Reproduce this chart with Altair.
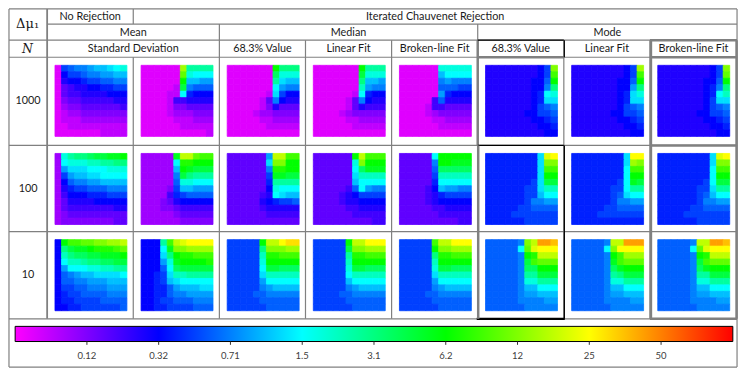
import altair as alt
import pandas as pd

# ---------------- values ----------------
# Each panel: 11 rows (top -> bottom) x 11 cells (left -> right).
# One base-36 character per cell = colour level on the colour bar, level = int(ch, 36) / 4
# (level 0 = magenta ... 2 = blue ... 4 = cyan ... 6 = green ... 8 = yellow ... 10 = red)
R1C1 = ["1abccdeefgh", "18aabccddee", "17889aabbcc", "156778899aa", "15667777888", "14556666677",
        "13445555556", "12334444444", "12223333333", "11222222222", "11111112222"]
R1C2 = ["111111tjjjj", "111111rhggg", "111111oeedd", "111112mcbbb", "111122g9888", "11112667777",
        "11112445555", "11112333444", "11111222333", "11111122222", "11111111112"]
R1C3 = ["1111111okkk", "1111111lhhh", "1111111jfee", "1111111gdcc", "1111112fa88", "1111125c877",
        "11111247555", "11112334444", "11111223333", "11111122222", "11111111111"]
R1C4 = ["1111111ojjj", "1111111mhhh", "1111111keed", "1111111idcc", "1111112g988", "1111125c877",
        "11111257666", "11112344444", "11111223333", "11111122222", "11111111111"]
R1C5 = ["111111hhhhh", "111111egggg", "111111cdccc", "111111bbbaa", "111111d9888", "111116b7777",
        "11112665555", "11112344444", "11111223333", "11111122222", "11111111111"]
R1C6 = ["777777778as", "777777778aq", "777777788bo", "777777788ck", "777777789gh", "777777789ff",
        "77777778abc", "77777788aab", "7777777889a", "77777777889", "77777777788"]
R1C7 = ["777777778at", "777777778aq", "777777788bo", "777777788dk", "777777789fh", "777777789ff",
        "77777778abc", "77777788aab", "7777777889a", "77777777889", "77777777788"]
R1C8 = ["777777778as", "777777778ar", "777777788bo", "777777789ck", "777777789gi", "77777778aff",
        "77777778abc", "77777788aab", "7777777889a", "77777777889", "77777777788"]

R2C1 = ["3hjkklmmnno", "3ghhhiijjkk", "3dfffggghhh", "3adeeffgggg", "38bccddeeee", "379aabbbccc",
        "36888999aaa", "35777788888", "35666666677", "34555555555", "34444444455"]
R2C2 = ["33333nuurqq", "33333gppooo", "33333eonmmm", "33333cmkjjj", "33333bhhggg", "33334aeeddd",
        "333369abbbb", "33345788888", "33344566666", "33333455555", "33333344444"]
R2C3 = ["555555duuqq", "555555fssoo", "555555cppoo", "555555annmm", "5555559jjjj", "5555558hggg",
        "5555567gfee", "55555789aab", "55555677777", "55555566666", "55555555555"]
R2C4 = ["555555ouqqq", "555555hsooo", "555555glnnn", "555555fiiii", "555555egggg", "555556bgdcc",
        "5555678aaaa", "55556778888", "55555667777", "55555566666", "55555555566"]
R2C5 = ["55555gooooo", "55555coonnn", "55555blllll", "55555aiiiii", "555559ggggg", "555568eddcc",
        "5555679aaaa", "55556788888", "55555667777", "55555566666", "55555555566"]
R2C6 = ["99999999fvw", "99999999fss", "99999999fqq", "99999999foo", "9999999afmm", "999999aafii",
        "999999aaegg", "999999accdd", "99999aabbbb", "9999aaaaaaa", "999999aaaaa"]
R2C7 = ["99999999fww", "99999999fts", "99999999gqq", "99999999goo", "9999999agnm", "999999aagjj",
        "999999abfgg", "999999accdd", "99999aabbbb", "9999aaaaaaa", "99999999999"]
R2C8 = ["99999999fvw", "99999999fss", "99999999gqq", "99999999goo", "9999999agmm", "999999aafjj",
        "999999abegg", "999999accdd", "99999aabbbb", "9999aaaaaaa", "999999aaaaa"]

R3C1 = ["8oqqrrssttu", "8kmnnopppqr", "8ikllmmnnno", "8giijkkllmm", "8dggghhiijj", "8bcdeeffffg",
        "8bbccdddeee", "8aabbcccddd", "89aabbbbccc", "899aaaabbbb", "8899aaaaaab"]
R3C2 = ["888jquvwwww", "888gnsstttt", "888fkoppqqq", "888dhnoooop", "888bglmmmmm", "889afiijjjj",
        "889aefggggg", "8899bdeeeff", "8899bccdddd", "889aabbbccc", "8899aaaabbb"]
R3C3 = ["aaaaaouuwxx", "aaaaakssstt", "aaaaaippqqq", "aaaaahooooo", "aaaaagmmlll", "aaaaafiiiii",
        "aaaaadggggg", "aaaaacdeeee", "aaaabbccccc", "aaaaabbbbbb", "aaaaaabbbbb"]
R3C4 = ["aaaaaouuwww", "aaaaamssttt", "aaaaajppqqq", "aaaaaiooooo", "aaaaahmmlll", "aaaaagiiiii",
        "aaaaaeggggg", "aaaaacdeeee", "aaaabbccccc", "aaaaabbbbbb", "aaaaaabbbbb"]
R3C5 = ["aaaaaquuwww", "aaaaaossttt", "aaaaakppqqq", "aaaaaiooooo", "aaaaahmmlll", "aaaaafiiiii",
        "aaaaadggggg", "aaaaacdeeee", "aaaabbccccc", "aaaaabbbbbb", "aaaaaabbbbb"]
R3C6 = ["bbbbbcsuzzy", "bbbbbgrvwww", "bbbbbcopuuu", "bbbbbcmqrrr", "bbbbbcllooo", "bbbbbcjjmmm",
        "bbbbbchhjjj", "bbbbbceeggg", "bbbbbcddeee", "bbbbbccccdd", "bbbbbbccccc"]
R3C7 = ["bbbbbcuuzzz", "bbbbbgswwww", "bbbbbcoqttt", "bbbbbcnqrrr", "bbbbbclnooo", "bbbbbcjkmmm",
        "bbbbbchhjjj", "bbbbbceeggg", "bbbbbcddeee", "bbbbbccccdd", "bbbbbbccccc"]
R3C8 = ["bbbbbcuuzzy", "bbbbbgrvwww", "bbbbbcopuuu", "bbbbbcmqrrr", "bbbbbclnooo", "bbbbbcjjmmm",
        "bbbbbchhjjj", "bbbbbceeggg", "bbbbbcddeee", "bbbbbccccdd", "bbbbbbccccc"]

PANELS = [[R1C1, R1C2, R1C3, R1C4, R1C5, R1C6, R1C7, R1C8],
          [R2C1, R2C2, R2C3, R2C4, R2C5, R2C6, R2C7, R2C8],
          [R3C1, R3C2, R3C3, R3C4, R3C5, R3C6, R3C7, R3C8]]

ROW_LABELS = ["1000", "100", "10"]
HEADER_TOP = ["No Rejection", "Iterated Chauvenet Rejection"]
HEADER_MID = ["Mean", "Median", "Mode"]
HEADER_LOW = ["Standard Deviation", "68.3% Value", "Linear Fit", "Broken-line Fit",
              "68.3% Value", "Linear Fit", "Broken-line Fit"]
CBAR_LEVELS = [1, 2, 3, 4, 5, 6, 7, 8, 9]
CBAR_LABELS = ["0.12", "0.32", "0.71", "1.5", "3.1", "6.2", "12", "25", "50"]
COLOR_LEVELS = [0, 2, 4, 6, 8, 10]
COLOR_STOPS = ["#ff00ff", "#0000ff", "#00ffff", "#00ff00", "#ffff00", "#ff0000"]

# ---------------- layout (reference pixel frame) ----------------
REF_W, REF_H = 747, 381
W, H = 731, 361
COL_EDGES = [40, 128, 216, 304, 392, 480, 568, 656, 745]
ROW_EDGES = [52, 145, 236, 328]
PANEL_W, PANEL_H = 73.5, 75.0
PANEL_DX, PANEL_DY = 8.0, 8.5
CBAR_X0, CBAR_X1, CBAR_Y0, CBAR_Y1 = 7.3, 740.7, 336, 352

xs = alt.Scale(domain=[0, REF_W], range=[0, W], nice=False, zero=False)
ys = alt.Scale(domain=[0, REF_H], range=[0, H], nice=False, zero=False)
cscale = alt.Scale(domain=COLOR_LEVELS, range=COLOR_STOPS, interpolate="rgb")

# heat cells
recs = []
for r, row in enumerate(PANELS):
    for c, panel in enumerate(row):
        px = COL_EDGES[c] + PANEL_DX
        py = ROW_EDGES[r] + PANEL_DY
        cw, ch_ = PANEL_W / 11, PANEL_H / 11
        for i, s in enumerate(panel):
            for j, ch in enumerate(s):
                recs.append(dict(x=px + j * cw, x2=px + (j + 1) * cw,
                                 y=py + i * ch_, y2=py + (i + 1) * ch_,
                                 level=int(ch, 36) / 4))
heat_df = pd.DataFrame(recs)

heat = alt.Chart(heat_df).mark_rect(strokeWidth=0.8).encode(
    x=alt.X("x:Q", scale=xs, axis=None), x2="x2:Q",
    y=alt.Y("y:Q", scale=ys, axis=None), y2="y2:Q",
    color=alt.Color("level:Q", scale=cscale, legend=None),
    stroke=alt.Stroke("level:Q", scale=cscale, legend=None),
)

# table lines
G, B = "#808080", "#000000"
lines = []
def seg(x1, y1, x2, y2, col=G, w=1.2):
    lines.append(dict(x=x1, y=y1, x2=x2, y2=y2, col=col, w=w))

seg(1, 1, 745, 1); seg(40, 17, 745, 17); seg(1, 34, 745, 34); seg(1, 52, 745, 52)
seg(1, 145, 745, 145); seg(1, 236, 745, 236); seg(1, 328, 745, 328); seg(1, 379, 745, 379)
seg(1, 1, 1, 379); seg(745, 1, 745, 379); seg(40, 1, 40, 328, w=1.8)
seg(128, 1, 128, 17); seg(128, 52, 128, 328); seg(216, 17, 216, 328)
seg(304, 34, 304, 328); seg(392, 34, 392, 328); seg(480, 17, 480, 328)
seg(568, 34, 568, 328); seg(656, 34, 656, 328)
# emphasised cell borders
seg(480, 34, 480, 145, w=2.5); seg(480, 52, 568, 52, w=2.5)
seg(657, 34, 657, 328, w=2.5); seg(744.5, 34, 744.5, 328, w=2.5)
seg(656, 34, 745, 34, w=2.5); seg(656, 52, 745, 52, w=2.5); seg(656, 145, 745, 145, w=2.5)
seg(656, 328, 745, 328, w=2.5)
seg(480, 34, 568, 34, col=B, w=1.3); seg(568.5, 34, 568.5, 52, col=B, w=1.2)
seg(480, 145, 568, 145, col=B, w=1.3); seg(568.5, 145, 568.5, 328, col=B, w=1.3)
seg(479, 328, 569, 328, col=B, w=2.2); seg(480.5, 145, 480.5, 328, col=G, w=2.5)
lines_df = pd.DataFrame(lines)

rules = alt.Chart(lines_df).mark_rule().encode(
    x=alt.X("x:Q", scale=xs, axis=None), x2="x2:Q",
    y=alt.Y("y:Q", scale=ys, axis=None), y2="y2:Q",
    color=alt.Color("col:N", scale=None, legend=None),
    strokeWidth=alt.StrokeWidth("w:Q", scale=None, legend=None),
)

# header and row texts
tx = []
tx.append(dict(x=(COL_EDGES[0] + COL_EDGES[1]) / 2, y=9.5, t=HEADER_TOP[0]))
tx.append(dict(x=(COL_EDGES[1] + COL_EDGES[8]) / 2, y=9.5, t=HEADER_TOP[1]))
mid_spans = [(0, 2), (2, 5), (5, 8)]
for (a, b), t in zip(mid_spans, HEADER_MID):
    tx.append(dict(x=(COL_EDGES[a] + COL_EDGES[b]) / 2, y=26, t=t))
low_spans = [(0, 2), (2, 3), (3, 4), (4, 5), (5, 6), (6, 7), (7, 8)]
for (a, b), t in zip(low_spans, HEADER_LOW):
    tx.append(dict(x=(COL_EDGES[a] + COL_EDGES[b]) / 2, y=43.5, t=t))
for r, t in enumerate(ROW_LABELS):
    tx.append(dict(x=20.5, y=(ROW_EDGES[r] + ROW_EDGES[r + 1]) / 2, t=t))
text_df = pd.DataFrame(tx)

texts = alt.Chart(text_df).mark_text(font="Lato", fontSize=10.8, color="#1a1a1a",
                                      baseline="middle", align="center").encode(
    x=alt.X("x:Q", scale=xs, axis=None), y=alt.Y("y:Q", scale=ys, axis=None), text="t:N")

dmu = alt.Chart(pd.DataFrame([dict(x=20, y=17, t="Δμ₁")])).mark_text(
    font="DejaVu Serif", fontSize=13, color="#1a1a1a", baseline="middle", align="center").encode(
    x=alt.X("x:Q", scale=xs, axis=None), y=alt.Y("y:Q", scale=ys, axis=None), text="t:N")
nlab = alt.Chart(pd.DataFrame([dict(x=20, y=43.5, t="N")])).mark_text(
    font="DejaVu Serif", fontSize=12.5, fontStyle="italic", color="#1a1a1a",
    baseline="middle", align="center").encode(
    x=alt.X("x:Q", scale=xs, axis=None), y=alt.Y("y:Q", scale=ys, axis=None), text="t:N")

# colour bar
grad = alt.LinearGradient(
    gradient="linear", x1=0, x2=1, y1=0, y2=0,
    stops=[alt.GradientStop(color=c, offset=l / COLOR_LEVELS[-1]) for l, c in zip(COLOR_LEVELS, COLOR_STOPS)])
cbar = alt.Chart(pd.DataFrame([dict(x=CBAR_X0, x2=CBAR_X1, y=CBAR_Y0, y2=CBAR_Y1)])).mark_rect(
    fill=grad, stroke="#000000", strokeWidth=1).encode(
    x=alt.X("x:Q", scale=xs, axis=None), x2="x2:Q",
    y=alt.Y("y:Q", scale=ys, axis=None), y2="y2:Q")

step = (CBAR_X1 - CBAR_X0) / COLOR_LEVELS[-1]
tick_df = pd.DataFrame(dict(x=[CBAR_X0 + l * step for l in CBAR_LEVELS],
                            y=[CBAR_Y1] * len(CBAR_LEVELS), y2=[CBAR_Y1 + 3.5] * len(CBAR_LEVELS),
                            yl=[367.5] * len(CBAR_LEVELS), t=CBAR_LABELS))
cticks = alt.Chart(tick_df).mark_rule(color="#333333", strokeWidth=1).encode(
    x=alt.X("x:Q", scale=xs, axis=None),
    y=alt.Y("y:Q", scale=ys, axis=None), y2="y2:Q")
clabels = alt.Chart(tick_df).mark_text(font="Lato", fontSize=9.5, color="#404040",
                                       baseline="middle", align="center").encode(
    x=alt.X("x:Q", scale=xs, axis=None), y=alt.Y("yl:Q", scale=ys, axis=None), text="t:N")

chart = alt.layer(heat, cbar, cticks, rules, texts, dmu, nlab, clabels).properties(
    width=W, height=H, padding=0, autosize=alt.AutoSizeParams(type="none"),
    background="white",
).configure_view(stroke=None)

chart.save("out.html", embed_options={"renderer": "svg", "actions": False})
